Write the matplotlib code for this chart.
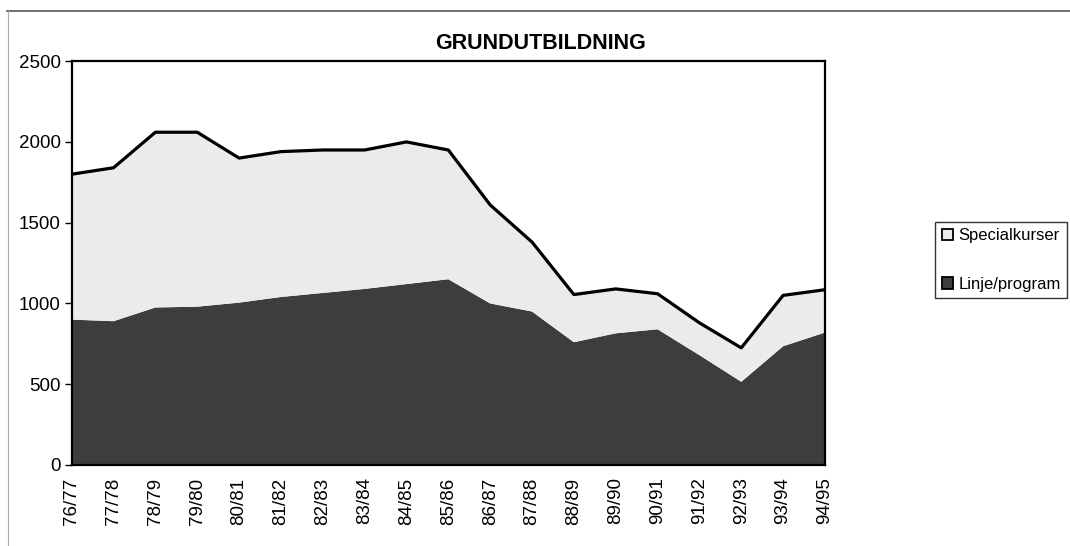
import matplotlib
matplotlib.use('Agg')
import matplotlib.pyplot as plt
from matplotlib.patches import Patch
from matplotlib.lines import Line2D

#### data
years = ['76/77', '77/78', '78/79', '79/80', '80/81', '81/82', '82/83', '83/84', '84/85', '85/86',
         '86/87', '87/88', '88/89', '89/90', '90/91', '91/92', '92/93', '93/94', '94/95']
linje = [900, 890, 975, 980, 1005, 1040, 1065, 1090, 1120, 1150,
         1000, 950, 760, 815, 840, 680, 515, 735, 820]
total = [1800, 1840, 2060, 2060, 1900, 1940, 1950, 1950, 2000, 1950,
         1610, 1380, 1055, 1090, 1060, 880, 725, 1050, 1085]
special = [t - l for t, l in zip(total, linje)]

DARK = '#3d3d3d'
LIGHT = '#ebebeb'

plt.rcParams['font.family'] = ['Liberation Sans', 'DejaVu Sans']

fig = plt.figure(figsize=(10.7, 5.46), dpi=100)
ax = fig.add_axes([0.067, 0.1484, 0.704, 0.7396])

x = list(range(len(years)))
ax.stackplot(x, linje, special, colors=[DARK, LIGHT], linewidth=0)
ax.plot(x, total, color='black', linewidth=2.3)

ax.set_xlim(0, len(years) - 1)
ax.set_ylim(0, 2500)
ax.set_yticks([0, 500, 1000, 1500, 2000, 2500])
ax.set_xticks(x)
ax.set_xticklabels(years, rotation=90, fontsize=13.5)
ax.tick_params(axis='y', labelsize=13.5, length=5, width=1, direction='out', pad=3)
ax.tick_params(axis='x', length=0, pad=9)
for s in ax.spines.values():
    s.set_linewidth(1.6)
    s.set_color('black')

fig.text(0.505, 0.92, 'GRUNDUTBILDNING', ha='center', va='center',
         fontsize=15.5, fontweight='bold')

handles = [Patch(facecolor=LIGHT, edgecolor='black', linewidth=1.3, label='Specialkurser'),
           Patch(facecolor=DARK, edgecolor='black', linewidth=1.3, label='Linje/program')]
leg = fig.legend(handles=handles, loc='center left', bbox_to_anchor=(0.866, 0.524),
                 fontsize=12, handlelength=0.7, handleheight=0.7, handletextpad=0.3,
                 labelspacing=2.0, borderpad=0.4, fancybox=False, framealpha=1)
leg.get_frame().set_edgecolor('#333333')
leg.get_frame().set_linewidth(1.0)

# thin frame lines of the scanned page
fig.add_artist(Line2D([0.0065, 1.0], [0.98, 0.98], transform=fig.transFigure,
                      color='#555555', linewidth=1.2))
fig.add_artist(Line2D([0.0075, 0.0075], [0.0, 0.98], transform=fig.transFigure,
                      color='#aaaaaa', linewidth=0.8))

fig.savefig('out.png', dpi=100)
